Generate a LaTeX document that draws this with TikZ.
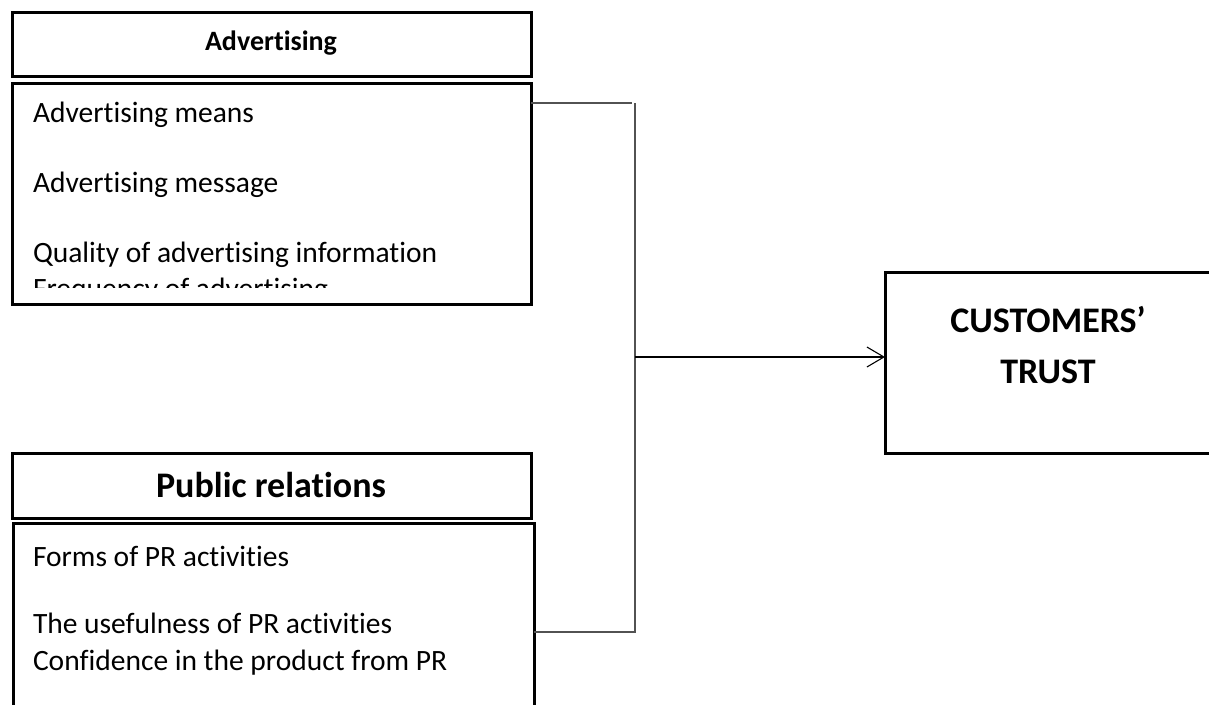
\documentclass[tikz,border=0pt]{standalone}
\usepackage{fontspec}
\setmainfont{Carlito}[Ligatures=NoCommon]
\usetikzlibrary{arrows.meta}
\tikzset{
  box/.style={draw=black, line width=3pt, fill=none, inner sep=0pt, outer sep=0pt, anchor=north west},
  item/.style={inner sep=0pt, outer sep=0pt, anchor=base west, font=\fontsize{29.5}{34}\selectfont},
  hdrsmall/.style={inner sep=0pt, anchor=base, font=\fontsize{28}{32}\selectfont\bfseries},
  hdrbig/.style={inner sep=0pt, anchor=base, font=\fontsize{36}{42}\selectfont\bfseries},
  conn/.style={draw=black!68, line width=1.4pt},
  arr/.style={draw=black, line width=1.1pt, -{Straight Barb[length=17pt,width=20pt,line width=1.1pt]}},
}
\begin{document}
\begin{tikzpicture}[x=1pt,y=-1pt]
\useasboundingbox (0,0) rectangle (1209,704);
\fill[white] (0,0) rectangle (1209,704);

% Advertising group
\node[box, minimum width=519pt, minimum height=64pt] (advh) at (12,12) {};
\node[hdrsmall] (advt) at (271,50) {Advertising};
\node[box, minimum width=519pt, minimum height=221pt] (advb) at (12,83) {};
\node[item] (a1) at (33,122) {Advertising means};
\node[item] (a2) at (33,192) {Advertising message};
\node[item] (a3) at (33,262) {Quality of advertising information};
\begin{scope}
  \clip (14,85) rectangle (529,287);
  \node[item] (a4) at (33,298) {Frequency of advertising};
\end{scope}

% Public relations group
\node[box, minimum width=519pt, minimum height=65pt] (prh) at (12,453) {};
\node[hdrbig] (prt) at (271,497) {Public relations};
\node[box, minimum width=521pt, minimum height=200pt] (prb) at (13,523) {};
\node[item] (p1) at (33,566) {Forms of PR activities};
\node[item] (p2) at (33,633) {The usefulness of PR activities};
\node[item] (p3) at (33,670) {Confidence in the product from PR};

% Target (right edge lies beyond the picture)
\node[box, minimum width=335pt, minimum height=181pt] (trust) at (885,272) {};
\node[hdrbig] (tr1) at (1048,332) {CUSTOMERS’};
\node[hdrbig] (tr2) at (1048,383) {TRUST};

% Connectors
\coordinate (top) at (635,103);
\coordinate (bot) at (635,632);
\coordinate (mid) at (635,357);
\draw[conn] (advb.east |- top) -- (632,103);
\draw[conn] (top) -- (bot) -- (prb.east |- bot);
\draw[arr] (mid) -- (trust.west |- mid);
\end{tikzpicture}
\end{document}
